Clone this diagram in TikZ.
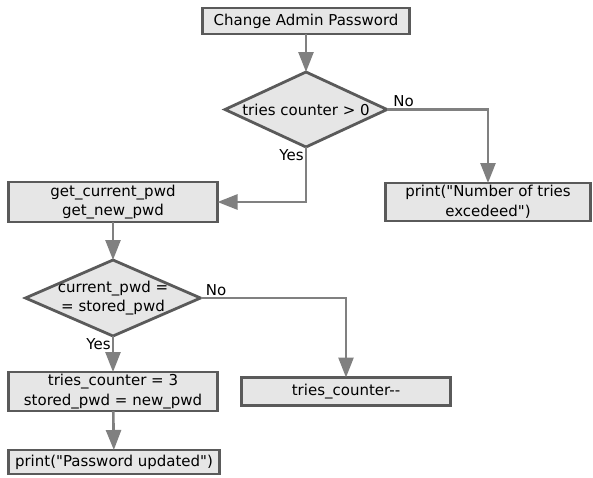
\documentclass[tikz,border=0pt]{standalone}
\usepackage{fontspec}
\setmainfont{DejaVu Sans}
\usepackage{tikz}
\usetikzlibrary{positioning,shapes.geometric,arrows.meta}
\definecolor{boxfill}{HTML}{E6E6E6}
\definecolor{boxline}{HTML}{5A5A5A}
\definecolor{arrline}{HTML}{808080}
\newcommand{\qq}{\textquotedbl}
\tikzset{
  stepbox/.style={draw=boxline, fill=boxfill, line width=2.8pt, inner sep=1pt, outer sep=0pt,
    align=center, font=\fontsize{15}{19.5}\selectfont},
  choice/.style={diamond, draw=boxline, fill=boxfill, line width=2.8pt, inner sep=0pt, outer sep=0pt,
    font=\fontsize{15}{19.5}\selectfont},
  flow/.style={draw=arrline, line width=2.6pt, -{Triangle[length=20pt,width=15pt]}},
  tag/.style={inner sep=1pt, font=\fontsize{15}{17}\selectfont}
}

\begin{document}
\begin{tikzpicture}[x=1pt,y=1pt]
  \useasboundingbox (0,0) rectangle (593,-477);

  % Define nodes
  \node[stepbox, minimum width=207pt, minimum height=26pt] (S) at (306,-21) {Change Admin Password};
  \node[choice, minimum width=162pt, minimum height=75pt, below=38pt of S,
    label={[font=\fontsize{15}{19.5}\selectfont]center:tries counter > 0}] (T) {};
  \node[stepbox, minimum width=209pt, minimum height=40pt, below=35pt of T, xshift=-193pt] (G)
    {get\_current\_pwd\\get\_new\_pwd};
  \node[stepbox, minimum width=205pt, minimum height=38pt, right=168pt of G] (E)
    {print(\qq Number of tries\\excedeed\qq)};
  \node[choice, minimum width=175pt, minimum height=76pt, below=38pt of G,
    label={[font=\fontsize{15}{19.5}\selectfont, align=center]center:current\_pwd =\\= stored\_pwd}] (C) {};
  \node[stepbox, minimum width=209pt, minimum height=39pt, below=36pt of C] (U)
    {tries\_counter = 3\\stored\_pwd = new\_pwd};
  \node[stepbox, minimum width=209pt, minimum height=28pt, right=24pt of U] (D) {tries\_counter-{}-};
  \node[stepbox, minimum width=211pt, minimum height=24pt, below=39pt of U, xshift=1pt] (P)
    {print(\qq Password updated\qq)};

  % Connect the nodes
  \draw[flow] (S) -- (T);
  \draw[flow] (T.east) node[tag, anchor=south west, xshift=4pt] {No} -| (E.north);
  \draw[flow] (T.south) node[tag, anchor=north east] {Yes} |- (G.east);
  \draw[flow] (G) -- (C);
  \draw[flow] (C.east) node[tag, anchor=south west, xshift=3pt] {No} -| (D.north);
  \draw[flow] (C.south) node[tag, anchor=north east] {Yes} -- (U);
  \draw[flow] (U) -- (P);
\end{tikzpicture}
\end{document}
